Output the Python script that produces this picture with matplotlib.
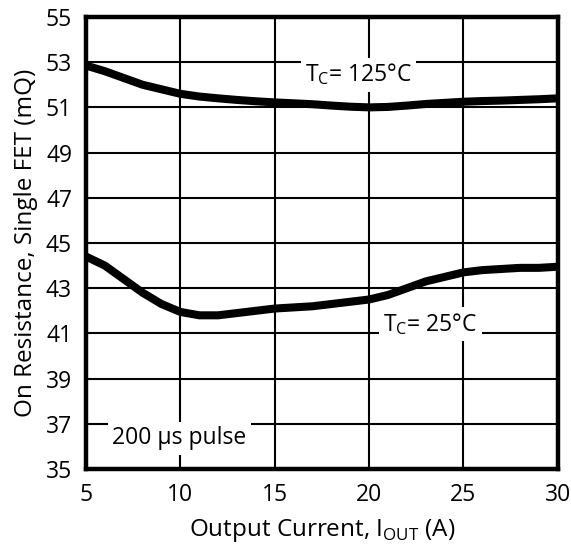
import matplotlib

matplotlib.use("Agg")
import matplotlib.pyplot as plt

# Output current (A) and on-resistance (mOhm)
current_hot = [5, 6, 7, 8, 9, 10, 11, 12, 13, 14, 15, 16, 17, 18, 19, 20,
               21, 22, 23, 24, 25, 26, 27, 28, 29, 30]
res_hot = [52.85, 52.6, 52.3, 52.0, 51.8, 51.6, 51.48, 51.4, 51.33, 51.27, 51.22,
           51.18, 51.14, 51.08, 51.03, 51.0, 51.02, 51.08, 51.15, 51.2, 51.25,
           51.28, 51.3, 51.33, 51.36, 51.4]

current_room = [5, 6, 7, 8, 9, 10, 11, 12, 13, 14, 15, 16, 17, 18, 19, 20,
                21, 22, 23, 24, 25, 26, 27, 28, 29, 30]
res_room = [44.4, 44.0, 43.4, 42.8, 42.3, 41.95, 41.8, 41.8, 41.9, 42.0, 42.1,
            42.15, 42.2, 42.3, 42.4, 42.5, 42.7, 43.0, 43.3, 43.5, 43.7, 43.8,
            43.85, 43.9, 43.9, 43.95]

x_ticks = [5, 10, 15, 20, 25, 30]
y_ticks = [35, 37, 39, 41, 43, 45, 47, 49, 51, 53, 55]

plt.rcParams["font.family"] = ["Open Sans", "DejaVu Sans"]
plt.rcParams["mathtext.fontset"] = "custom"
plt.rcParams["mathtext.rm"] = "Open Sans"

fig = plt.figure(figsize=(5.71, 5.51), dpi=100)
ax = fig.add_axes([0.1506, 0.1488, 0.8264, 0.8204])

ax.plot(current_hot, res_hot, color="black", linewidth=5.8, solid_capstyle="butt", zorder=3)
ax.plot(current_room, res_room, color="black", linewidth=5.8, solid_capstyle="butt", zorder=3)

ax.set_xlim(5, 30)
ax.set_ylim(35, 55)
ax.set_xticks(x_ticks)
ax.set_yticks(y_ticks)
ax.tick_params(length=0, labelsize=16.5, pad=10)
ax.grid(True, color="black", linewidth=1.5)
ax.set_axisbelow(True)
for s in ax.spines.values():
    s.set_linewidth(3.2)

ax.set_xlabel(r"Output Current, I$_{\rm OUT}$ (A)", fontsize=17.5, labelpad=7)
ax.set_ylabel("On Resistance, Single FET (mQ)", fontsize=17.5, labelpad=6)

box = dict(facecolor="white", edgecolor="none", pad=3)
ax.text(16.6, 52.45, r"T$_{\rm C}$= 125°C", fontsize=16.5, va="center", ha="left", bbox=box, zorder=2)
ax.text(20.75, 41.4, r"T$_{\rm C}$= 25°C", fontsize=16.5, va="center", ha="left", bbox=box, zorder=2)
ax.text(6.4, 36.35, "200 µs pulse", fontsize=16.5, va="center", ha="left", bbox=box, zorder=2)

fig.savefig("out.png", dpi=100)
plt.close(fig)
